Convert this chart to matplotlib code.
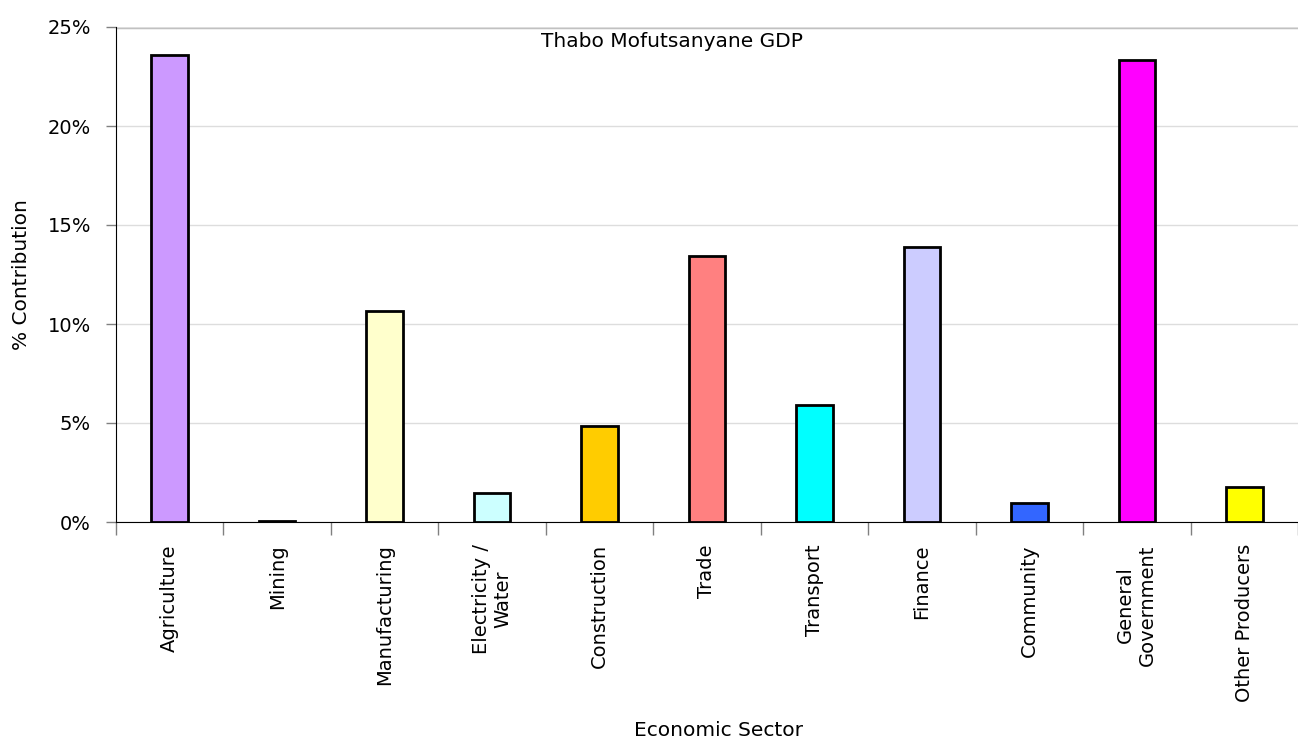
import matplotlib.pyplot as plt
import numpy as np
from matplotlib.ticker import FuncFormatter

sectors = ["Agriculture", "Mining", "Manufacturing", "Electricity /\nWater",
           "Construction", "Trade", "Transport", "Finance", "Community",
           "General\nGovernment", "Other Producers"]
share = [23.6, 0.05, 10.65, 1.45, 4.85, 13.45, 5.9, 13.9, 0.95, 23.35, 1.75]
colours = ["#CC99FF", "#993366", "#FFFFCC", "#CCFFFF", "#FFCC00", "#FF8080",
           "#00FFFF", "#CCCCFF", "#3366FF", "#FF00FF", "#FFFF00"]


def sector_chart():
    fig = plt.figure(figsize=(12.98, 7.40), dpi=100)
    ax = fig.add_axes([116 / 1298, 218 / 740, 1 - 116 / 1298, 495 / 740])

    x = np.arange(len(sectors))
    ax.bar(x, share, width=0.34, color=colours, edgecolor="black",
           linewidth=2, zorder=3)

    ax.set_xlim(-0.5, len(sectors) - 0.5)
    ax.set_ylim(0, 25)
    ax.set_yticks([0, 5, 10, 15, 20, 25])
    ax.yaxis.set_major_formatter(FuncFormatter(lambda v, p: f"{v:.0f}%"))
    ax.tick_params(axis="y", labelsize=14, length=7, color="#808080",
                   width=1, pad=11)

    # category labels sit between boundary ticks
    ax.set_xticks(x)
    ax.set_xticklabels(sectors, rotation=90, fontsize=14, va="top",
                       ha="center", multialignment="center")
    ax.tick_params(axis="x", length=0, pad=16)
    ax.set_xticks(np.arange(len(sectors) + 1) - 0.5, minor=True)
    ax.tick_params(axis="x", which="minor", length=9, color="#808080",
                   width=1)

    ax.grid(axis="y", color="#DDDDDD", linewidth=1, zorder=0)
    ax.axhline(25, color="#BBBBBB", linewidth=2.5, zorder=1)
    for side in ["top", "right"]:
        ax.spines[side].set_visible(False)
    ax.spines["left"].set_color("black")
    ax.spines["bottom"].set_color("black")

    ax.text(0.47, 0.97, "Thabo Mofutsanyane GDP", transform=ax.transAxes,
            ha="center", va="center", fontsize=14.5)
    ax.set_ylabel("% Contribution", fontsize=14.5, labelpad=12)
    fig.text(718 / 1298, 10 / 740, "Economic Sector", ha="center",
             va="center", fontsize=14.5)

    fig.savefig("out.png", dpi=100)


if __name__ == '__main__':
    sector_chart()
